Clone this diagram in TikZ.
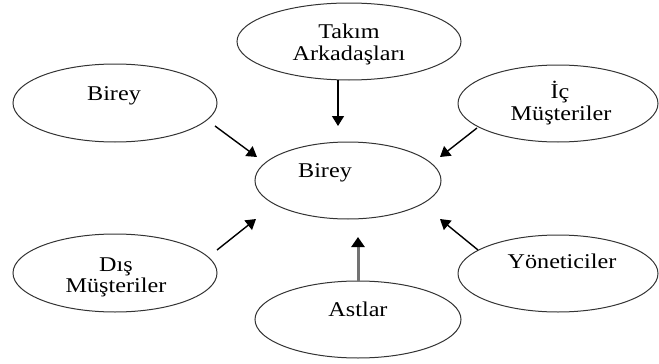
\documentclass[tikz,border=0pt]{standalone}
\usepackage{fontspec}
\setmainfont{Liberation Serif}[FakeStretch=1.15]
\usetikzlibrary{arrows.meta,shapes.geometric}
\begin{document}
\begin{tikzpicture}[x=1pt,y=-1pt,
  ell/.style={draw=black!80,line width=1pt,ellipse,inner sep=0pt},
  lbl/.style={anchor=base,inner sep=0pt,font=\fontsize{21}{22}\selectfont},
  arr/.style={line width=1.4pt,-{Triangle[length=10pt,width=12pt]}},
  thickarr/.style={draw=black!55,line width=3pt,-{Triangle[length=10pt,width=13pt,fill=black,color=black]}}]
\useasboundingbox (0,0) rectangle (659,364);
% ellipses
\node[ell,minimum width=224pt,minimum height=77pt] (tak) at (349,41.5) {};
\node[ell,minimum width=204pt,minimum height=78pt] (b1) at (115,103) {};
\node[ell,minimum width=186pt,minimum height=77pt] (ctr) at (348,180.5) {};
\node[ell,minimum width=200pt,minimum height=77pt] (ic) at (558,103.5) {};
\node[ell,minimum width=204pt,minimum height=78pt] (dis) at (115,273) {};
\node[ell,minimum width=200pt,minimum height=77pt] (yon) at (558,273.5) {};
\node[ell,minimum width=206pt,minimum height=77pt] (ast) at (358,319.5) {};
% labels
\node[lbl] (takA) at (349,38) {Takım};
\node[lbl] (takB) at (349,60) {Arkadaşları};
\node[lbl] (b1t) at (114,100) {Birey};
\node[lbl] (ctrt) at (325,177) {Birey};
\node[lbl] (icA) at (560,98) {İç};
\node[lbl] (icB) at (561,120) {Müşteriler};
\node[lbl] (disA) at (116,271) {Dış};
\node[lbl] (disB) at (116,292) {Müşteriler};
\node[lbl] (yont) at (562,268) {Yöneticiler};
\node[lbl] (astt) at (358,316) {Astlar};
% arrow endpoints
\coordinate (s1) at (338,80);  \coordinate (t1) at (338,126);
\coordinate (s2) at (215,126); \coordinate (t2) at (257,157);
\coordinate (s3) at (477,128); \coordinate (t3) at (440,157);
\coordinate (s4) at (217,250); \coordinate (t4) at (256,219);
\coordinate (s5) at (478,250); \coordinate (t5) at (440,219);
\coordinate (s6) at (358,281); \coordinate (t6) at (358,237);
% arrows
\draw[arr] (s1) -- (t1);
\draw[arr] (s2) -- (t2);
\draw[arr] (s3) -- (t3);
\draw[arr] (s4) -- (t4);
\draw[arr] (s5) -- (t5);
\draw[thickarr] (s6) -- (t6);
\end{tikzpicture}
\end{document}
